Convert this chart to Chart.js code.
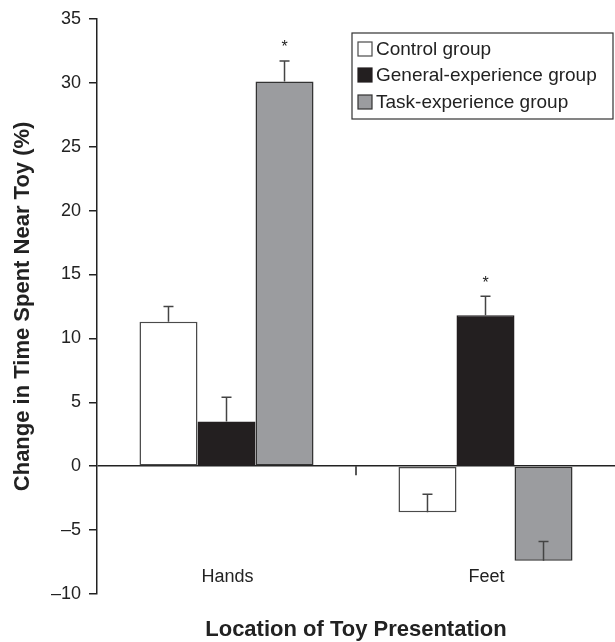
<!DOCTYPE html>
<html>
<head>
<meta charset="utf-8">
<script src="https://cdn.jsdelivr.net/npm/chart.js@4"></script>
<style>
  html, body { margin: 0; padding: 0; background: #fff; }
  #wrap { width: 615px; height: 642px; }
</style>
</head>
<body>
<div id="wrap"><canvas id="toyChart"></canvas></div>
<script>
// ---------------- DATA ----------------
const locations = ["Hands", "Feet"];
const groups = ["Control group", "General-experience group", "Task-experience group"];
const controlVals = [11.3, -3.6];
const generalVals = [3.5, 11.8];
const taskVals = [30.1, -7.4];
// standard errors (drawn upward from the bar end)
const controlErr = [1.2, 1.4];
const generalErr = [1.9, 1.5];
const taskErr = [1.6, 1.5];
// significance markers
const controlStar = [false, false];
const generalStar = [false, true];
const taskStar = [true, false];
const yTicks = [-10, -5, 0, 5, 10, 15, 20, 25, 30, 35];

const FONT = "'Liberation Sans', Arial, Helvetica, sans-serif";
const INK = "#222";

// error bars + stars
const errorBars = {
  id: "errorBars",
  afterDatasetsDraw(chart) {
    const { ctx } = chart;
    const y = chart.scales.y;
    chart.data.datasets.forEach((ds, i) => {
      const meta = chart.getDatasetMeta(i);
      meta.data.forEach((bar, j) => {
        const top = y.getPixelForValue(ds.data[j] + ds.err[j]);
        ctx.save();
        ctx.strokeStyle = "#444";
        ctx.lineWidth = 1.5;
        ctx.beginPath();
        ctx.moveTo(bar.x, bar.y);
        ctx.lineTo(bar.x, top);
        ctx.moveTo(bar.x - 5, top);
        ctx.lineTo(bar.x + 5, top);
        ctx.stroke();
        if (ds.star[j]) {
          ctx.fillStyle = INK;
          ctx.font = "16px " + FONT;
          ctx.textAlign = "center";
          ctx.textBaseline = "middle";
          ctx.fillText("*", bar.x, top - 13);
        }
        ctx.restore();
      });
    });
  }
};

// category labels sit just above the bottom of the plot; small tick between categories
const categoryMarks = {
  id: "categoryMarks",
  afterDraw(chart) {
    const { ctx, chartArea } = chart;
    const x = chart.scales.x;
    const y0 = chart.scales.y.getPixelForValue(0);
    const px = (x.getPixelForValue(0) + x.getPixelForValue(1)) / 2;
    ctx.save();
    ctx.strokeStyle = INK;
    ctx.lineWidth = 1.5;
    ctx.beginPath();
    ctx.moveTo(px, y0);
    ctx.lineTo(px, y0 + 9);
    ctx.stroke();
    ctx.fillStyle = INK;
    ctx.font = "18px " + FONT;
    ctx.textAlign = "center";
    ctx.textBaseline = "middle";
    chart.data.labels.forEach((lab, i) => {
      ctx.fillText(lab, x.getPixelForValue(i) + 1, chartArea.bottom - 17);
    });
    ctx.restore();
  }
};

// boxed legend in the upper right
const boxLegend = {
  id: "boxLegend",
  afterDraw(chart) {
    const { ctx } = chart;
    const left = 352, top = 33, right = 613, bottom = 119;
    ctx.save();
    ctx.strokeStyle = "#333";
    ctx.lineWidth = 1.2;
    ctx.strokeRect(left, top, right - left, bottom - top);
    ctx.font = "19px " + FONT;
    ctx.textBaseline = "middle";
    const rows = [49, 75, 102];
    chart.data.datasets.forEach((ds, i) => {
      const cy = rows[i];
      ctx.fillStyle = ds.backgroundColor;
      ctx.fillRect(358, cy - 7, 14, 14);
      ctx.strokeStyle = ds.borderColor;
      ctx.lineWidth = 1.2;
      ctx.strokeRect(358, cy - 7, 14, 14);
      ctx.fillStyle = INK;
      ctx.fillText(ds.label, 376, cy + 1);
    });
    ctx.restore();
  }
};

new Chart(document.getElementById("toyChart"), {
  type: "bar",
  data: {
    labels: locations,
    datasets: [
      { label: groups[0], data: controlVals, err: controlErr, star: controlStar,
        backgroundColor: "#ffffff", borderColor: "#4a4a4a" },
      { label: groups[1], data: generalVals, err: generalErr, star: generalStar,
        backgroundColor: "#231f20", borderColor: "#231f20" },
      { label: groups[2], data: taskVals, err: taskErr, star: taskStar,
        backgroundColor: "#9b9c9f", borderColor: "#333333" }
    ]
  },
  options: {
    responsive: true,
    maintainAspectRatio: false,
    animation: false,
    layout: { padding: { top: 15, right: 0, bottom: 0, left: 0 } },
    datasets: {
      bar: { borderWidth: 1.5, borderSkipped: false, barPercentage: 1, categoryPercentage: 0.672 }
    },
    plugins: {
      legend: { display: false },
      tooltip: { enabled: false }
    },
    scales: {
      x: {
        grid: { display: false },
        border: { display: false },
        ticks: { display: false },
        title: {
          display: true,
          text: "Location of Toy Presentation",
          color: INK,
          font: { family: FONT, size: 22, weight: "bold", lineHeight: 1.1 },
          padding: { top: 0, bottom: 0 }
        },
        afterFit: s => { s.height = 48; }
      },
      y: {
        min: -10,
        max: 35,
        afterBuildTicks: s => { s.ticks = yTicks.map(v => ({ value: v })); },
        ticks: {
          color: INK,
          font: { family: FONT, size: 18 },
          padding: 8,
          callback: v => (v < 0 ? "\u2013" + Math.abs(v) : v)
        },
        grid: {
          color: c => (c.tick && c.tick.value === 0 ? INK : "rgba(0,0,0,0)"),
          tickColor: INK,
          tickLength: 8,
          lineWidth: 1.5
        },
        border: { display: true, color: INK, width: 1.5 },
        title: {
          display: true,
          text: "Change in Time Spent Near Toy (%)",
          color: INK,
          font: { family: FONT, size: 22, weight: "bold" },
          padding: { top: 10, bottom: 0 }
        },
        afterFit: s => { s.width = 97; }
      }
    }
  },
  plugins: [errorBars, categoryMarks, boxLegend]
});
</script>
</body>
</html>
